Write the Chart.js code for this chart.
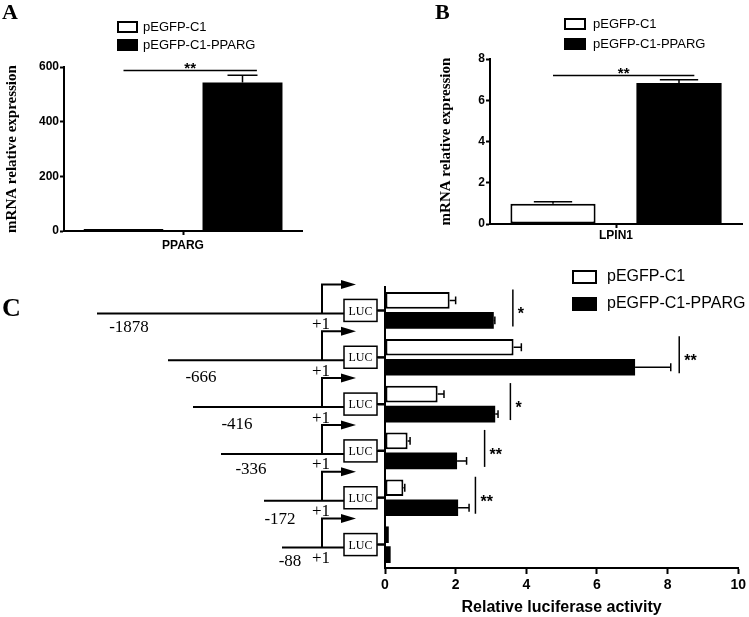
<!DOCTYPE html>
<html>
<head>
<meta charset="utf-8">
<script src="https://cdn.jsdelivr.net/npm/chart.js@4.4.1/dist/chart.umd.min.js"></script>
<style>
  body { margin: 0; background: #fff; width: 749px; height: 617px; position: relative; overflow: hidden; }
  canvas { position: absolute; }
  .tag { position: absolute; font: bold 22px "Liberation Serif", "Times New Roman", serif; line-height: 22px; color: #000; }
</style>
</head>
<body>
<canvas id="chartA" width="375" height="250" style="left:0;top:0"></canvas>
<canvas id="chartB" width="369" height="250" style="left:380px;top:0"></canvas>
<canvas id="chartC" width="749" height="367" style="left:0;top:250px"></canvas>
<div class="tag" style="left:2px;top:1px">A</div>
<div class="tag" style="left:435px;top:1px">B</div>
<div class="tag" style="left:2px;top:295px;font-size:26px;line-height:26px">C</div>
<script>
Chart.defaults.font.family = '"Liberation Sans", Arial, sans-serif';
Chart.defaults.color = "#000";
Chart.defaults.animation = false;

const ctrlLabel = "pEGFP-C1";
const ppargLabel = "pEGFP-C1-PPARG";

// panel A - PPARG mRNA
const labelsA = ["PPARG"];
const ctrlA = [7];
const ctrlErrA = [0];
const ppargA = [543];
const ppargErrA = [27];
const sigLevelA = 587;

// panel B - LPIN1 mRNA
const labelsB = ["LPIN1"];
const ctrlB = [0.98];
const ctrlErrB = [0.1];
const ppargB = [6.84];
const ppargErrB = [0.16];
const sigLevelB = 7.2;

// panel C - luciferase, promoter deletions
const constructs = ["-1878", "-666", "-416", "-336", "-172", "-88"];
const ctrlC = [1.83, 3.64, 1.49, 0.64, 0.52, 0.11];
const ctrlErrC = [0.17, 0.22, 0.18, 0.07, 0.04, 0];
const ppargC = [3.08, 7.08, 3.12, 2.04, 2.07, 0.16];
const ppargErrC = [0.03, 1.01, 0.08, 0.27, 0.31, 0];
const sigC = ["*", "**", "*", "**", "**", ""];
const sigPosC = [3.62, 8.33, 3.55, 2.82, 2.56, null];

// schematic layout (pixels)
const promoterStartX = [97, 168, 193, 221, 264, 282];
const promoterLabelX = [129, 201, 237, 251, 280, 290];
const promoterLabelDy = [17, 20, 20, 19, 22, 17];
const tssX = 322;

const errorBars = {
  id: "errorBars",
  afterDatasetsDraw(chart, args, opts) {
    const ctx = chart.ctx;
    const horiz = chart.options.indexAxis === "y";
    const vScale = horiz ? chart.scales.x : chart.scales.y;
    ctx.save();
    ctx.strokeStyle = "#000";
    ctx.lineWidth = 1.5;
    chart.data.datasets.forEach((ds, di) => {
      chart.getDatasetMeta(di).data.forEach((bar, i) => {
        const err = ds.errors[i];
        if (!err) return;
        const end = vScale.getPixelForValue(ds.data[i] + err);
        ctx.beginPath();
        if (horiz) {
          const cap = bar.height * opts.cap / 2;
          ctx.moveTo(bar.x, bar.y);
          ctx.lineTo(end, bar.y);
          ctx.moveTo(end, bar.y - cap);
          ctx.lineTo(end, bar.y + cap);
        } else {
          const cap = bar.width * opts.cap / 2;
          ctx.moveTo(bar.x, bar.y);
          ctx.lineTo(bar.x, end);
          ctx.moveTo(bar.x - cap, end);
          ctx.lineTo(bar.x + cap, end);
        }
        ctx.stroke();
      });
    });
    ctx.restore();
  },
};

const boxLegend = {
  id: "boxLegend",
  afterDraw(chart, args, o) {
    const ctx = chart.ctx;
    ctx.save();
    ctx.font = o.size + 'px "Liberation Sans", Arial, sans-serif';
    ctx.textBaseline = "middle";
    chart.data.datasets.forEach((ds, i) => {
      const y = o.y + i * o.gap;
      ctx.fillStyle = ds.backgroundColor;
      ctx.fillRect(o.x, y - o.h / 2, o.w, o.h);
      ctx.strokeStyle = "#000";
      ctx.lineWidth = 2;
      ctx.strokeRect(o.x, y - o.h / 2, o.w, o.h);
      ctx.fillStyle = "#000";
      ctx.fillText(ds.label, o.x + o.w + o.textGap, y);
    });
    ctx.restore();
  },
};

const sigBracket = {
  id: "sigBracket",
  afterDraw(chart, args, o) {
    if (o.level == null) return;
    const ctx = chart.ctx;
    const b0 = chart.getDatasetMeta(0).data[0];
    const b1 = chart.getDatasetMeta(1).data[0];
    const y = chart.scales.y.getPixelForValue(o.level);
    const x1 = b0.x;
    const x2 = b1.x + b1.width * 0.18;
    ctx.save();
    ctx.strokeStyle = "#000";
    ctx.lineWidth = 1.5;
    ctx.beginPath();
    ctx.moveTo(x1, y);
    ctx.lineTo(x2, y);
    ctx.stroke();
    ctx.font = 'bold 15px "Liberation Sans", Arial, sans-serif';
    ctx.textAlign = "center";
    ctx.fillStyle = "#000";
    ctx.fillText(o.text, (x1 + x2) / 2, y + 2);
    ctx.restore();
  },
};

function axisBase() {
  return {
    border: { color: "#000", width: 2 },
    grid: { drawOnChartArea: false, color: "#000", tickColor: "#000", tickWidth: 2, tickLength: 4, offset: false },
  };
}

function barPanel(id, labels, ctrl, ctrlErr, pparg, ppargErr, opts) {
  return new Chart(document.getElementById(id), {
    type: "bar",
    data: {
      labels,
      datasets: [
        { label: ctrlLabel, data: ctrl, errors: ctrlErr, backgroundColor: "#fff", borderColor: "#000", borderWidth: 2, borderSkipped: false },
        { label: ppargLabel, data: pparg, errors: ppargErr, backgroundColor: "#000", borderColor: "#000", borderWidth: 0 },
      ],
    },
    options: {
      responsive: false,
      devicePixelRatio: 1,
      layout: { padding: opts.padding },
      categoryPercentage: 1,
      barPercentage: opts.barPct,
      plugins: {
        legend: { display: false },
        tooltip: { enabled: false },
        errorBars: { cap: opts.cap },
        boxLegend: opts.legend,
        sigBracket: { level: opts.sig, text: "**" },
      },
      scales: {
        x: {
          ...axisBase(),
          ticks: { font: { size: 12, weight: "bold" }, padding: opts.xPad },
          afterFit: (s) => { s.height = opts.xHeight; },
        },
        y: {
          ...axisBase(),
          min: 0,
          max: opts.max,
          ticks: { stepSize: opts.step, font: { size: 12, weight: "bold" }, padding: 1 },
          title: {
            display: true,
            text: "mRNA relative expression",
            font: { family: '"Liberation Serif", "Times New Roman", serif', size: 15, weight: "bold" },
            padding: { top: 3, bottom: 0 },
          },
          afterFit: (s) => { s.width = opts.yWidth; },
        },
      },
    },
    plugins: [errorBars, boxLegend, sigBracket],
  });
}

barPanel("chartA", labelsA, ctrlA, ctrlErrA, ppargA, ppargErrA, {
  padding: { left: 0, top: 67, right: 73, bottom: 0 },
  barPct: 0.672, cap: 0.375, max: 600, step: 200, sig: sigLevelA,
  xPad: 3, xHeight: 19, yWidth: 64,
  legend: { x: 118, y: 27, w: 19, h: 10, gap: 18, textGap: 6, size: 13 },
});

barPanel("chartB", labelsB, ctrlB, ctrlErrB, ppargB, ppargErrB, {
  padding: { left: 54, top: 59, right: 7, bottom: 0 },
  barPct: 0.676, cap: 0.45, max: 8, step: 2, sig: sigLevelB,
  xPad: 0, xHeight: 26, yWidth: 56,
  legend: { x: 185, y: 24, w: 20, h: 10, gap: 20, textGap: 8, size: 13 },
});

const promoterDiagram = {
  id: "promoterDiagram",
  afterDraw(chart) {
    const ctx = chart.ctx;
    const yScale = chart.scales.y;
    const xScale = chart.scales.x;
    const left = chart.chartArea.left;
    ctx.save();
    ctx.strokeStyle = "#000";
    ctx.fillStyle = "#000";
    constructs.forEach((name, i) => {
      const cy = yScale.getPixelForValue(i);
      const lineY = cy + 3;
      const boxR = left - 8;
      const boxL = boxR - 33;
      const arrowY = cy - 26;

      ctx.lineWidth = 2;
      ctx.beginPath();
      ctx.moveTo(promoterStartX[i], lineY);
      ctx.lineTo(boxL, lineY);
      ctx.moveTo(tssX, lineY);
      ctx.lineTo(tssX, arrowY);
      ctx.lineTo(boxL - 2, arrowY);
      ctx.moveTo(boxR, cy);
      ctx.lineTo(left, cy);
      ctx.stroke();

      ctx.beginPath();
      ctx.moveTo(boxL - 3, arrowY - 4.5);
      ctx.lineTo(boxL + 12, arrowY);
      ctx.lineTo(boxL - 3, arrowY + 4.5);
      ctx.closePath();
      ctx.fill();

      ctx.fillStyle = "#fff";
      ctx.fillRect(boxL, cy - 11, boxR - boxL, 22);
      ctx.lineWidth = 1.5;
      ctx.strokeRect(boxL, cy - 11, boxR - boxL, 22);
      ctx.fillStyle = "#000";
      ctx.textAlign = "center";
      ctx.textBaseline = "middle";
      ctx.font = '12px "Liberation Serif", "Times New Roman", serif';
      ctx.fillText("LUC", (boxL + boxR) / 2, cy + 1);

      ctx.font = '17px "Liberation Serif", "Times New Roman", serif';
      ctx.fillText(name, promoterLabelX[i], cy + promoterLabelDy[i]);
      ctx.fillText("+1", tssX - 1, cy + 14);

      if (sigPosC[i] != null) {
        const sx = xScale.getPixelForValue(sigPosC[i]);
        ctx.lineWidth = 1.5;
        ctx.beginPath();
        ctx.moveTo(sx, cy - 21);
        ctx.lineTo(sx, cy + 16);
        ctx.stroke();
        ctx.font = 'bold 16px "Liberation Sans", Arial, sans-serif';
        ctx.textAlign = "left";
        ctx.textBaseline = "alphabetic";
        ctx.fillText(sigC[i], sx + 5, cy + 9);
      }
    });
    ctx.restore();
  },
};

new Chart(document.getElementById("chartC"), {
  type: "bar",
  data: {
    labels: constructs,
    datasets: [
      { label: ctrlLabel, data: ctrlC, errors: ctrlErrC, backgroundColor: "#fff", borderColor: "#000", borderWidth: 2, borderSkipped: false },
      { label: ppargLabel, data: ppargC, errors: ppargErrC, backgroundColor: "#000", borderColor: "#000", borderWidth: 0 },
    ],
  },
  options: {
    indexAxis: "y",
    responsive: false,
    devicePixelRatio: 1,
    layout: { padding: { left: 0, top: 37, right: 10, bottom: 0 } },
    categoryPercentage: 0.853,
    barPercentage: 0.835,
    plugins: {
      legend: { display: false },
      tooltip: { enabled: false },
      errorBars: { cap: 0.47 },
      boxLegend: { x: 573, y: 27, w: 23, h: 12, gap: 27, textGap: 11, size: 16 },
    },
    scales: {
      x: {
        ...axisBase(),
        min: 0,
        max: 10,
        ticks: { stepSize: 2, font: { size: 14, weight: "bold" }, padding: 3 },
        grid: { drawOnChartArea: false, color: "#000", tickColor: "#000", tickWidth: 2, tickLength: 6 },
        title: {
          display: true,
          text: "Relative luciferase activity",
          font: { size: 16, weight: "bold" },
          padding: { top: 0, bottom: 0 },
        },
        afterFit: (s) => { s.height = 49; },
      },
      y: {
        ...axisBase(),
        grid: { drawOnChartArea: false, color: "#000", tickColor: "#000", tickWidth: 2, tickLength: 7, offset: false },
        ticks: { display: false },
        afterFit: (s) => { s.width = 385; },
      },
    },
  },
  plugins: [errorBars, boxLegend, promoterDiagram],
});
</script>
</body>
</html>
